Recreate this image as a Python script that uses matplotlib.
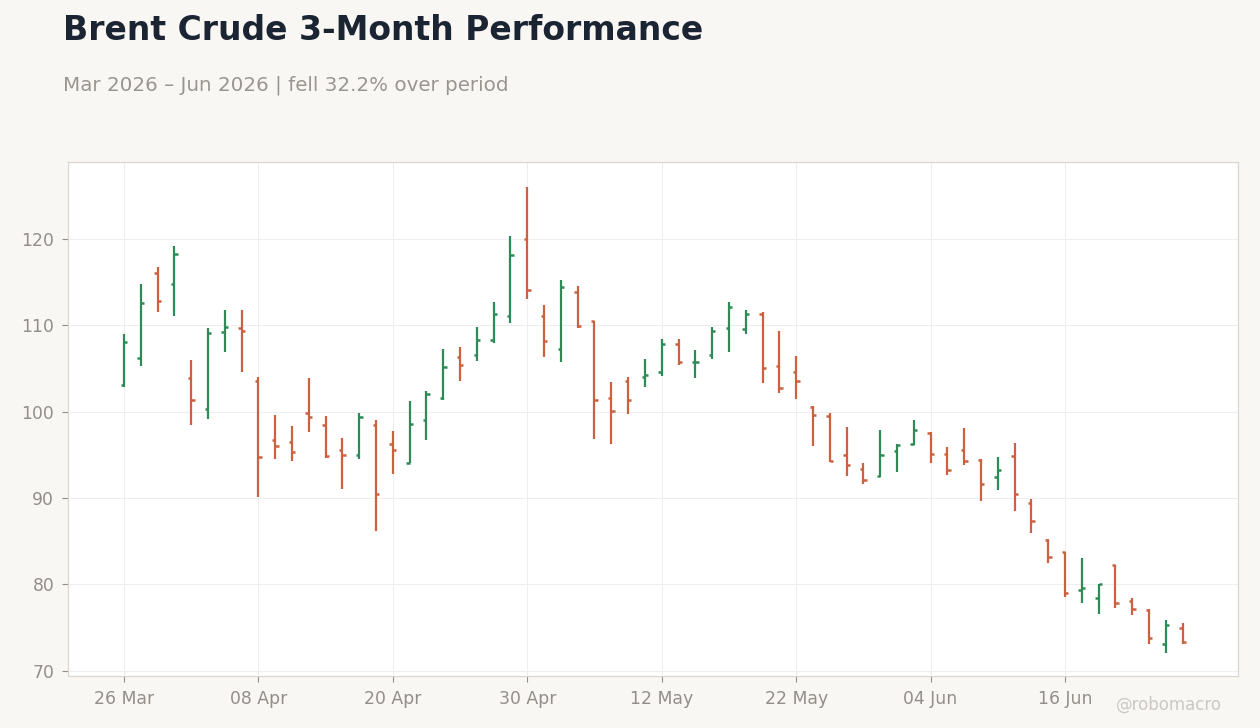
import matplotlib
matplotlib.use("Agg")
import matplotlib.pyplot as plt
import numpy as np
import pandas as pd

# ---- data ----
holidays = ["2026-04-03", "2026-05-25", "2026-06-19"]
dates = pd.bdate_range("2026-03-26", "2026-06-30", freq="C", holidays=holidays)[:64]

opens = [103.1, 106.2, 116.1, 114.8, 103.9, 100.3, 109.2, 109.7, 103.5, 96.7,
         96.5, 99.8, 98.5, 95.6, 95.0, 98.4, 96.3, 94.1, 99.0, 101.6,
         106.3, 106.6, 108.3, 111.1, 120.0, 111.1, 107.2, 113.8, 110.5, 101.6,
         103.6, 104.0, 104.6, 107.8, 105.7, 106.6, 109.7, 109.6, 111.3, 105.3,
         104.6, 100.5, 99.5, 95.0, 93.4, 92.5, 95.4, 96.2, 97.5, 95.1,
         95.6, 94.4, 92.4, 94.9, 89.4, 85.1, 83.7, 79.3, 78.4, 82.3,
         78.1, 77.0, 73.1, 75.0]
highs = [109.0, 114.8, 116.8, 119.2, 106.0, 109.7, 111.8, 111.8, 104.0, 99.6,
         98.3, 103.9, 99.5, 97.0, 99.8, 99.0, 97.8, 101.2, 102.4, 107.3,
         107.5, 109.8, 112.7, 120.3, 126.0, 112.4, 115.2, 114.5, 110.5, 103.4,
         104.0, 106.1, 108.4, 108.4, 107.1, 109.8, 112.7, 111.8, 111.5, 109.3,
         106.4, 100.7, 99.9, 98.2, 94.1, 97.9, 96.2, 99.0, 97.6, 95.9,
         98.1, 94.5, 94.8, 96.4, 89.9, 85.3, 83.8, 83.1, 80.0, 82.3,
         78.4, 77.1, 75.9, 75.5]
lows = [102.9, 105.3, 111.5, 111.1, 98.5, 99.1, 106.9, 104.6, 90.1, 94.5,
        94.3, 97.7, 94.6, 91.1, 94.5, 86.2, 92.8, 94.0, 96.7, 101.4,
        103.5, 105.9, 108.0, 110.3, 113.0, 106.3, 105.8, 109.7, 96.8, 96.2,
        99.7, 102.9, 104.1, 105.4, 103.9, 106.1, 106.9, 109.0, 103.3, 102.2,
        101.5, 96.0, 94.2, 92.6, 91.6, 92.4, 93.0, 96.1, 94.0, 92.7,
        93.8, 89.7, 90.9, 88.5, 85.9, 82.5, 78.5, 77.9, 76.6, 77.3,
        76.5, 73.1, 72.1, 73.1]
closes = [108.1, 112.6, 112.8, 118.3, 101.3, 109.1, 109.8, 109.3, 94.8, 96.0,
          95.3, 99.4, 94.9, 95.0, 99.4, 90.5, 95.6, 98.6, 102.0, 105.2,
          105.4, 108.3, 111.3, 118.1, 114.1, 108.2, 114.4, 109.9, 101.4, 100.1,
          101.4, 104.3, 107.8, 105.7, 105.8, 109.3, 112.1, 111.3, 105.0, 102.7,
          103.6, 99.6, 94.3, 93.8, 92.1, 95.0, 96.1, 97.9, 95.1, 93.2,
          94.3, 91.6, 93.2, 90.5, 87.4, 83.2, 79.0, 79.6, 80.0, 77.9,
          77.1, 73.8, 75.3, 73.3]

# ---- style ----
BG = "#f9f7f4"
UP = "#2e8b57"
DOWN = "#cc6140"
TXT = "#938e89"

fig = plt.figure(figsize=(12.6, 7.28), dpi=100, facecolor=BG)
ax = fig.add_axes([0.054, 0.0714, 0.9286, 0.7061])
ax.set_facecolor("white")

x = np.arange(len(dates))
o = np.array(opens); h = np.array(highs); l = np.array(lows); c = np.array(closes)
cols = [UP if cc >= oo else DOWN for oo, cc in zip(o, c)]
tw = 0.2
ax.vlines(x, l, h, colors=cols, linewidth=1.6, zorder=3)
ax.hlines(o, x - tw, x, colors=cols, linewidth=1.8, zorder=3)
ax.hlines(c, x, x + tw, colors=cols, linewidth=1.8, zorder=3)

ax.set_xlim(-3.33, len(dates) - 1 + 3.3)
ax.set_ylim(69.4, 128.9)
ax.set_yticks([70, 80, 90, 100, 110, 120])
tick_idx = x[::8]
ax.set_xticks(tick_idx)
ax.set_xticklabels([dates[i].strftime("%d %b") for i in tick_idx])

ax.grid(True, color="#eeeeee", linewidth=0.8, zorder=0)
ax.set_axisbelow(True)
for s in ax.spines.values():
    s.set_color("#ddd6cf")
    s.set_linewidth(0.9)
ax.tick_params(colors=TXT, labelsize=12.4, length=4, width=0.8, pad=6)

n = (c[-1] / c[0] - 1) * 100
fig.text(63 / 1260, 1 - 30.5 / 728, "Brent Crude 3-Month Performance", fontsize=23.75,
         fontweight="bold", color="#1b2433", va="center", ha="left")
fig.text(63 / 1260, 1 - 85.5 / 728,
         f"Mar 2026 – Jun 2026 | fell {abs(n):.1f}% over period",
         fontsize=14.3, color="#9a9590", va="center", ha="left")
fig.text(1222 / 1260, 1 - 705 / 728, "@robomacro", fontsize=12, color="#cbc7c2",
         va="center", ha="right")

fig.savefig("out.png", dpi=100, facecolor=BG)
